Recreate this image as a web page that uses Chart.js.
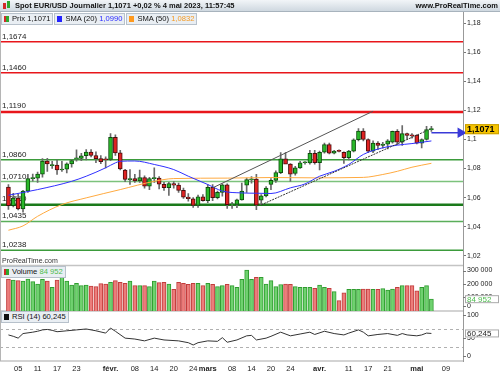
<!DOCTYPE html>
<html>
<head>
<meta charset="utf-8">
<script src="https://cdn.jsdelivr.net/npm/chart.js@4.4.0/dist/chart.umd.min.js"></script>
<style>
body{margin:0;background:#fff;}
#wrap{position:relative;width:500px;height:375px;overflow:hidden;font-family:"Liberation Sans",Arial,sans-serif;color:#111;}
canvas{position:absolute;left:0;top:0;}
.hdr{position:absolute;left:0;top:0;width:500px;height:12px;box-sizing:border-box;background:linear-gradient(#f2f5f8,#cfd8e0);border-bottom:1px solid #a8b3bd;font-weight:bold;font-size:7.5px;line-height:11px;}
.hdr .t{position:absolute;left:15px;top:0;}
.hdr .w{position:absolute;right:2px;top:0;}
.ic{position:absolute;display:block;}
.row{position:absolute;left:1px;display:flex;gap:1px;}
.lb{height:10px;line-height:10px;box-sizing:content-box;padding:0 2px 0 2px;background:#e9eef3;border:1px solid #b7c1cb;font-size:7.6px;display:flex;align-items:center;white-space:nowrap;}
.sq{display:inline-block;width:5px;height:6px;margin-right:3px;}
.rg{background:linear-gradient(90deg,#d42a2a 50%,#2fa82f 50%);}
.prt{position:absolute;left:2px;top:257px;font-size:7px;color:#333;}
</style>
</head>
<body>
<div id="wrap">
  <canvas id="c" width="500" height="375"></canvas>
  <div class="hdr">
    <span class="ic" style="left:3px;top:3px;width:3px;height:6px;background:#d42a2a"></span>
    <span class="ic" style="left:7px;top:1px;width:3px;height:7px;background:#2fa82f"></span>
    <span class="t">Spot EUR/USD Journalier 1,1071 +0,02 % 4 mai 2023, 11:57:45</span>
    <span class="w">www.ProRealTime.com</span>
  </div>
  <div class="row" style="top:13px">
    <div class="lb"><span class="sq rg"></span>Prix 1,1071</div>
    <div class="lb"><span class="sq" style="background:#2323ff"></span>SMA (20)&nbsp;<span style="color:#2a2aff">1,0990</span></div>
    <div class="lb"><span class="sq" style="background:#ff9a1f"></span>SMA (50)&nbsp;<span style="color:#f59a23">1,0832</span></div>
  </div>
  <div class="prt">ProRealTime.com</div>
  <div class="row" style="top:266px">
    <div class="lb"><span class="sq rg"></span>Volume&nbsp;<span style="color:#4dbb4d">84 952</span></div>
  </div>
  <div class="row" style="top:311px">
    <div class="lb"><span class="sq" style="background:#111"></span>RSI (14) 60,245</div>
  </div>
</div>
<script>
// --- Données ---
const dates = ['01-03','01-04','01-05','01-06','01-09','01-10','01-11','01-12','01-13','01-16','01-17','01-18','01-19','01-20','01-23','01-24','01-25','01-26','01-27','01-30','01-31',
  '02-01','02-02','02-03','02-06','02-07','02-08','02-09','02-10','02-13','02-14','02-15','02-16','02-17','02-20','02-21','02-22','02-23','02-24','02-27','02-28',
  '03-01','03-02','03-03','03-06','03-07','03-08','03-09','03-10','03-13','03-14','03-15','03-16','03-17','03-20','03-21','03-22','03-23','03-24','03-27','03-28','03-29','03-30','03-31',
  '04-03','04-04','04-05','04-06','04-07','04-10','04-11','04-12','04-13','04-14','04-17','04-18','04-19','04-20','04-21','04-24','04-25','04-26','04-27','04-28',
  '05-01','05-02','05-03','05-04','05-05','05-08','05-09','05-10','05-11','05-12'];

const opens  = [1.0672,1.0545,1.0597,1.0522,1.0644,1.0730,1.0734,1.0761,1.0851,1.0820,1.0824,1.0790,1.0795,1.0832,1.0866,1.0870,1.0888,1.0914,1.0890,1.0868,1.0864,
  1.0862,1.1015,1.0908,1.0790,1.0724,1.0730,1.0714,1.0738,1.0679,1.0730,1.0735,1.0692,1.0668,1.0696,1.0686,1.0650,1.0603,1.0592,1.0546,1.0605,
  1.0578,1.0670,1.0600,1.0636,1.0688,1.0550,1.0553,1.0584,1.0685,1.0722,1.0728,1.0582,1.0612,1.0690,1.0718,1.0772,1.0867,1.0830,1.0766,1.0805,1.0840,1.0838,1.0905,
  1.0840,1.0912,1.0965,1.0906,1.0922,1.0912,1.0875,1.0920,1.0998,1.1058,1.1000,1.0920,1.0975,1.0960,1.0968,1.0982,1.1056,1.0982,1.1040,1.1028,
  1.1030,1.0975,1.1000,1.1068];
const highs  = [1.0689,1.0630,1.0625,1.0650,1.0760,1.0762,1.0775,1.0868,1.0870,1.0850,1.0860,1.0850,1.0840,1.0860,1.0928,1.0905,1.0930,1.0930,1.0915,1.0890,1.0880,
  1.1040,1.1033,1.0925,1.0795,1.0793,1.0760,1.0790,1.0750,1.0740,1.0805,1.0745,1.0705,1.0705,1.0710,1.0700,1.0665,1.0628,1.0600,1.0618,1.0620,
  1.0690,1.0690,1.0645,1.0695,1.0695,1.0568,1.0590,1.0700,1.0735,1.0745,1.0760,1.0620,1.0675,1.0730,1.0785,1.0910,1.0910,1.0835,1.0815,1.0850,1.0848,1.0925,1.0925,
  1.0920,1.0975,1.0975,1.0925,1.0928,1.0915,1.0925,1.1005,1.1075,1.1075,1.1005,1.0990,1.0985,1.0980,1.1000,1.1058,1.1068,1.1095,1.1045,1.1040,
  1.1032,1.1005,1.1090,1.1090];
const lows   = [1.0519,1.0535,1.0515,1.0500,1.0636,1.0713,1.0705,1.0740,1.0780,1.0800,1.0760,1.0780,1.0770,1.0810,1.0850,1.0855,1.0860,1.0880,1.0840,1.0833,1.0805,
  1.0855,1.0890,1.0790,1.0710,1.0690,1.0705,1.0705,1.0665,1.0655,1.0705,1.0660,1.0650,1.0615,1.0665,1.0635,1.0595,1.0576,1.0533,1.0533,1.0575,
  1.0565,1.0578,1.0590,1.0610,1.0525,1.0525,1.0530,1.0583,1.0635,1.0700,1.0517,1.0552,1.0605,1.0655,1.0705,1.0765,1.0845,1.0712,1.0755,1.0800,1.0830,1.0830,1.0830,
  1.0790,1.0905,1.0900,1.0900,1.0915,1.0835,1.0860,1.0915,1.0990,1.0990,1.0910,1.0910,1.0930,1.0940,1.0935,1.0975,1.0965,1.0960,1.1000,1.1010,
  1.0970,1.0942,1.0995,1.1055];
const closes = [1.0545,1.0597,1.0522,1.0644,1.0730,1.0734,1.0761,1.0851,1.0832,1.0824,1.0790,1.0795,1.0832,1.0855,1.0870,1.0888,1.0914,1.0890,1.0868,1.0848,1.0860,
  1.1015,1.0908,1.0798,1.0725,1.0728,1.0714,1.0738,1.0679,1.0730,1.0735,1.0692,1.0668,1.0696,1.0686,1.0650,1.0603,1.0592,1.0546,1.0605,1.0578,
  1.0670,1.0600,1.0636,1.0688,1.0552,1.0553,1.0584,1.0645,1.0724,1.0726,1.0548,1.0612,1.0665,1.0718,1.0772,1.0867,1.0830,1.0762,1.0805,1.0840,1.0842,1.0905,1.0840,
  1.0912,1.0965,1.0906,1.0920,1.0918,1.0875,1.0920,1.0998,1.1058,1.1000,1.0920,1.0975,1.0960,1.0968,1.0990,1.1056,1.0982,1.1040,1.1028,1.1025,
  1.0975,1.1000,1.1068,1.1071];

const volumes = [236000,229000,224000,221000,236000,216000,198000,233000,221000,174000,229000,254000,221000,191000,204000,186000,191000,183000,179000,201000,198000,
  212000,224000,212000,204000,221000,186000,186000,186000,179000,221000,209000,212000,198000,159000,212000,204000,197000,204000,204000,186000,
  204000,197000,179000,186000,197000,186000,174000,233000,304000,233000,248000,248000,198000,224000,179000,195000,198000,197000,179000,174000,174000,174000,166000,
  191000,174000,166000,141000,74000,133000,159000,159000,159000,161000,161000,159000,159000,164000,154000,161000,174000,186000,186000,186000,
  147000,174000,186000,84952];

const sma20Dates  = ['01-03','01-11','01-20','01-25','01-31','02-02','02-03','02-08','02-14','02-20','02-23','03-01','03-06','03-10','03-15','03-20','03-24','03-29','04-03','04-06','04-11','04-14','04-20','04-25','04-28','05-04'];
const sma20Values = [1.0616,1.0655,1.0712,1.0747,1.0805,1.0839,1.0850,1.0852,1.0828,1.0793,1.0747,1.0690,1.0645,1.0632,1.0630,1.0628,1.0667,1.0694,1.0747,1.0781,1.0828,1.0897,1.0943,1.0961,1.0972,1.0990];
const sma50Dates  = ['01-03','01-06','01-11','01-18','01-25','02-03','02-14','02-20','03-07','03-20','03-31','04-14','04-20','04-25','04-28','05-04'];
const sma50Values = [1.0375,1.0405,1.0471,1.0552,1.0598,1.0655,1.0712,1.0731,1.0734,1.0738,1.0736,1.0739,1.0759,1.0781,1.0809,1.0836];

const rsiDates  = ['01-03','01-04','01-05','01-06','01-10','01-11','01-12','01-13','01-16','01-17','01-19','01-23','01-25','01-27','01-31','02-01','02-02','02-06','02-08','02-10','02-14','02-16','02-21','02-23','02-24','02-27',
  '03-01','03-03','03-06','03-07','03-09','03-13','03-14','03-15','03-17','03-20','03-22','03-24','03-28','03-30','03-31','04-04','04-06','04-10','04-11','04-13','04-14','04-17','04-19','04-21','04-25','04-26','04-27','05-01','05-02','05-03','05-04'];
const rsiValues = [57,54,50,60,63,65,68,69,67,64,66,68,70,66,61,72,65,50,48,44,50,46,44,40,35,40,
  44,43,51,41,46,55,56,46,50,54,63,55,59,63,58,65,60,57,61,68,63,55,58,60,56,60,57,55,57,61,60.245];

const trendUpDates = ['03-02','04-18'], trendUpValues = [1.0667,1.1195];
const trendLowDates = ['03-16','05-03'], trendLowValues = [1.0550,1.1060];
const arrowDates = ['05-04','05-12'], arrowValue = 1.1046;

const levelValues = [1.1674,1.1460,1.1190,1.0860,1.0710,1.0550,1.0435,1.0238];
const levelLabels = ['1,1674','1,1460','1,1190','1,0860','1,0710','1,0550','1,0435','1,0238'];
const rsiLevels = [70,30];

const priceTicks = [1.02,1.04,1.06,1.08,1.1,1.12,1.14,1.16,1.18];
const volTicks = [0,100000,200000,300000];
const rsiTicks = [0,50,100];
const xTickDates = ['01-05','01-11','01-17','01-23','02-01','02-08','02-14','02-20','02-24','03-01','03-08','03-14','03-20','03-24','04-03','04-11','04-17','04-21','05-01','05-09'];
const xTickText  = ['05','11','17','23','févr.','08','14','20','24','mars','08','14','20','24','avr.','11','17','21','mai','09'];

// --- Styles ---
const levelStyles = [
  {c:'#e8161b', w:1.5},{c:'#e8161b', w:1.5},{c:'#e8161b', w:2.5},
  {c:'#3b9b3b', w:1.5},{c:'#7cc27c', w:1.5},{c:'#1b7a1b', w:2.5},
  {c:'#5aae5a', w:1.5},{c:'#3b9b3b', w:1.5}];
const FONT = '"Liberation Sans", Arial, sans-serif';
Chart.defaults.font.family = FONT;
Chart.defaults.animation = false;

const up = k => closes[k] >= opens[k];
const fmtPrix = v => String(+v.toFixed(2)).replace('.', ',');
const fmtVol = v => String(v).replace(/\B(?=(\d{3})+(?!\d))/g, ' ');
const pts = (ds, vs) => ds.map((d, k) => ({x: d, y: vs[k]}));

const overlay = {
  id: 'overlay',
  beforeDatasetsDraw(chart) {
    const {ctx, chartArea: a, scales: {y, yv, yr}} = chart;
    ctx.save();
    // niveaux horizontaux
    ctx.font = '8px ' + FONT;
    ctx.textBaseline = 'bottom';
    levelValues.forEach((v, k) => {
      const py = y.getPixelForValue(v), st = levelStyles[k];
      ctx.strokeStyle = st.c; ctx.lineWidth = st.w;
      ctx.beginPath(); ctx.moveTo(0, py); ctx.lineTo(a.right, py); ctx.stroke();
      ctx.fillStyle = '#222';
      ctx.fillText(levelLabels[k], 2, py - st.w / 2 - 0.5);
    });
    // RSI 70 / 30
    ctx.setLineDash([3, 3]); ctx.strokeStyle = '#b0b0b0'; ctx.lineWidth = 1;
    rsiLevels.forEach(v => {
      const py = Math.round(yr.getPixelForValue(v)) + 0.5;
      ctx.beginPath(); ctx.moveTo(0, py); ctx.lineTo(a.right, py); ctx.stroke();
    });
    ctx.setLineDash([]);
    // séparateurs
    ctx.strokeStyle = '#c4c4c4'; ctx.lineWidth = 1.5;
    [y.bottom, yv.bottom, yr.bottom].forEach(py => {
      ctx.beginPath(); ctx.moveTo(0, py); ctx.lineTo(a.right, py); ctx.stroke();
    });
    ctx.strokeStyle = '#b5b5b5'; ctx.lineWidth = 1;
    ctx.beginPath(); ctx.moveTo(0.5, a.top); ctx.lineTo(0.5, a.bottom); ctx.stroke();
    ctx.restore();
  },
  afterDraw(chart) {
    const {ctx, scales: {y, yv, yr}} = chart;
    ctx.save();
    ctx.font = '7px ' + FONT; ctx.fillStyle = '#222'; ctx.textBaseline = 'middle';
    ctx.strokeStyle = '#777'; ctx.lineWidth = 1;
    const side = (sc, ticks, fmt) => ticks.forEach(v => {
      const py = sc.getPixelForValue(v);
      const ly = Math.min(Math.max(py, sc.top + 4), sc.bottom - 5);
      ctx.beginPath(); ctx.moveTo(sc.left, Math.round(ly) + 0.5); ctx.lineTo(sc.left + 3, Math.round(ly) + 0.5); ctx.stroke();
      ctx.fillText(fmt(v), sc.left + 4, ly);
    });
    side(yv, volTicks, fmtVol);
    side(yr, rsiTicks, v => String(v));
    // étiquettes de dernière valeur
    const last = closes.length - 1;
    const box = (py, h, bg, bd, txt, col, font) => {
      ctx.fillStyle = bg; ctx.fillRect(465, py - h / 2, 34, h);
      ctx.strokeStyle = bd; ctx.strokeRect(465.5, py - h / 2 + 0.5, 33, h - 1);
      ctx.fillStyle = col; ctx.font = font; ctx.fillText(txt, 467, py + 0.5);
    };
    box(y.getPixelForValue(closes[last]), 10, '#f6c400', '#c99f00', '1,1071', '#000', 'bold 9px ' + FONT);
    box(yv.getPixelForValue(volumes[last]), 8, '#fff', '#aaa', fmtVol(volumes[last]), '#4dbb4d', '8px ' + FONT);
    box(yr.getPixelForValue(rsiValues[rsiValues.length - 1]), 8, '#fff', '#aaa', '60,245', '#222', '8px ' + FONT);
    ctx.restore();
  }
};

const sideAxis = (extra) => Object.assign({
  type: 'linear', position: 'right', stack: 'p',
  grid: {display: false}, border: {color: '#999'},
  ticks: {display: false},
  afterFit(s) { s.width = 37; }
}, extra);

new Chart(document.getElementById('c').getContext('2d'), {
  type: 'bar',
  data: {
    labels: dates,
    datasets: [
      { // mèches
        data: lows.map((l, k) => [l, highs[k]]), yAxisID: 'y',
        backgroundColor: '#6a6a6a', barThickness: 1, grouped: false, order: 5
      },
      { // corps
        data: opens.map((o, k) => [o, closes[k]]), yAxisID: 'y',
        backgroundColor: opens.map((o, k) => up(k) ? '#29b829' : '#e02222'),
        borderColor: opens.map((o, k) => up(k) ? '#0d4d0d' : '#4a0d0d'),
        borderWidth: 1, borderSkipped: false, barThickness: 4, minBarLength: 1, grouped: false, order: 4
      },
      { // volume
        data: volumes, yAxisID: 'yv', base: -3750,
        backgroundColor: volumes.map((v, k) => up(k) ? '#6fd26f' : '#ec7d7b'),
        borderColor: volumes.map((v, k) => up(k) ? '#2f9c2f' : '#c23c3c'),
        borderWidth: 1, borderSkipped: 'start', barThickness: 4, grouped: false, order: 4
      },
      {type: 'line', data: pts(sma20Dates, sma20Values), yAxisID: 'y', borderColor: '#3030ff', borderWidth: 1, pointRadius: 0, spanGaps: true, cubicInterpolationMode: 'monotone', order: 2},
      {type: 'line', data: pts(sma50Dates, sma50Values), yAxisID: 'y', borderColor: '#ffaa40', borderWidth: 1, pointRadius: 0, spanGaps: true, cubicInterpolationMode: 'monotone', order: 2},
      {type: 'line', data: pts(trendUpDates, trendUpValues), yAxisID: 'y', borderColor: '#555', borderWidth: 1, pointRadius: 0, order: 1},
      {type: 'line', data: pts(trendLowDates, trendLowValues), yAxisID: 'y', borderColor: '#333', borderWidth: 1, borderDash: [2, 1], pointRadius: 0, order: 1},
      {type: 'line', data: pts(arrowDates, [arrowValue, arrowValue]), yAxisID: 'y', borderColor: '#3a3ad8', borderWidth: 1.5,
        pointRadius: [0, 4.5], pointStyle: 'triangle', rotation: 90, pointBackgroundColor: '#3a3ad8', pointBorderColor: '#3a3ad8', order: 1},
      {type: 'line', data: pts(rsiDates, rsiValues), yAxisID: 'yr', borderColor: '#333', borderWidth: 1, pointRadius: 0, spanGaps: true, order: 1}
    ]
  },
  options: {
    responsive: false,
    layout: {padding: {top: 12, left: 1, right: 0, bottom: 0}},
    plugins: {legend: {display: false}, tooltip: {enabled: false}},
    scales: {
      x: {
        type: 'category', offset: true,
        grid: {display: false, drawTicks: false}, border: {display: false},
        afterBuildTicks(s) { s.ticks = s.ticks.filter(t => xTickDates.includes(dates[t.value])); },
        afterFit(s) { s.height = 14; },
        ticks: {
          autoSkip: false, maxRotation: 0, padding: 3, color: '#222',
          font: c => ({size: 7.5, weight: (c.tick && isNaN(xTickText[xTickDates.indexOf(dates[c.tick.value])])) ? 'bold' : 'normal'}),
          callback: v => xTickText[xTickDates.indexOf(dates[v])]
        }
      },
      y: {
        type: 'linear', position: 'right', stack: 'p', stackWeight: 253.5,
        min: 1.01322, max: 1.18781,
        afterBuildTicks(s) { s.ticks = priceTicks.map(v => ({value: v})); },
        afterFit(s) { s.width = 37; },
        grid: {drawOnChartArea: false, tickLength: 3, color: '#777'},
        border: {color: '#999'},
        ticks: {padding: 1, color: '#222', font: {size: 7}, callback: v => fmtPrix(v)}
      },
      yv: sideAxis({stackWeight: 45.5, min: -3750, max: 337500}),
      yr: sideAxis({stackWeight: 50, min: 0, max: 109.3})
    }
  },
  plugins: [overlay]
});
</script>
</body>
</html>
